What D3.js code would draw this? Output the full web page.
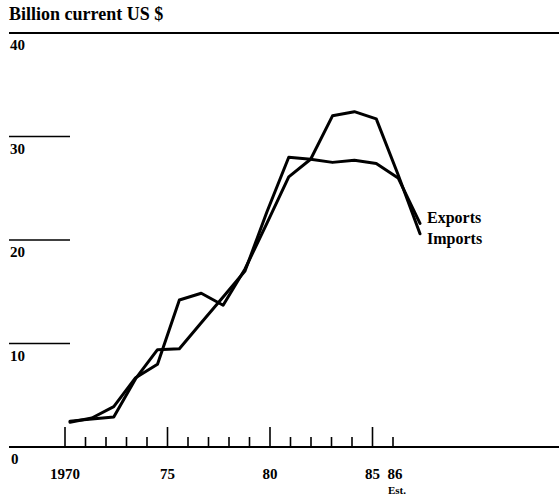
<!DOCTYPE html>
<html>
<head>
<meta charset="utf-8">
<script src="https://cdn.jsdelivr.net/npm/d3@7"></script>
<style>
  html, body { margin: 0; padding: 0; background: #fff; }
  svg text { font-family: "Liberation Serif", "Times New Roman", serif; font-weight: bold; fill: #000; }
</style>
</head>
<body>
<svg id="chart" width="559" height="495"></svg>
<script>
// ---- data ----
const years = [1970, 1971, 1972, 1973, 1974, 1975, 1976, 1977, 1978, 1979, 1980, 1981, 1982, 1983, 1984, 1985, 1986];
const imports = [2.4, 2.8, 3.9, 6.7, 8.0, 14.2, 14.85, 13.7, 17.2, 21.6, 26.1, 27.8, 32.0, 32.4, 31.7, 26.3, 20.6];
const exports = [2.5, 2.7, 2.9, 6.6, 9.4, 9.5, 12.0, 14.5, 17.0, 22.7, 28.0, 27.8, 27.5, 27.7, 27.4, 26.0, 21.6];
const yTicks = [0, 10, 20, 30, 40];
const xTickYears = d3.range(1970, 1987);
const majorYears = [1970, 1975, 1980, 1985];
const xTickLabels = [
  { year: 1970, label: "1970" },
  { year: 1975, label: "75" },
  { year: 1980, label: "80" },
  { year: 1985, label: "85" },
  { year: 1986, label: "86" }
];
const title = "Billion current US $";
const seriesLabels = [
  { name: "Exports", value: 21.6 },
  { name: "Imports", value: 19.6 }
];

// ---- scales ----
const svg = d3.select("#chart");
const y = d3.scaleLinear().domain([0, 40]).range([447, 33]);
const xAxis = d3.scaleLinear().domain([1970, 1986]).range([65, 393]);
const xData = d3.scaleLinear().domain([1970, 1986]).range([70, 420]);

// title
svg.append("text").attr("x", 9).attr("y", 20).attr("font-size", 18).text(title);

// horizontal rules / gridlines
yTicks.forEach(t => {
  const full = (t === 0 || t === 40);
  svg.append("line")
    .attr("x1", 9).attr("x2", full ? 559 : 70)
    .attr("y1", y(t)).attr("y2", y(t))
    .attr("stroke", "#000").attr("stroke-width", full ? 2 : 1.6);
  svg.append("text")
    .attr("x", t === 0 ? 11 : 10)
    .attr("y", y(t) + (t === 0 ? 17 : 17))
    .attr("font-size", 15)
    .text(t);
});

// x ticks
xTickYears.forEach(yr => {
  const major = majorYears.includes(yr);
  svg.append("line")
    .attr("x1", xAxis(yr)).attr("x2", xAxis(yr))
    .attr("y1", y(0)).attr("y2", y(0) - (major ? 20 : 10))
    .attr("stroke", "#000").attr("stroke-width", 1.6);
});
xTickLabels.forEach(d => {
  svg.append("text")
    .attr("x", xAxis(d.year) + (d.year === 1986 ? 2 : 0))
    .attr("y", 479)
    .attr("text-anchor", "middle")
    .attr("font-size", 15)
    .text(d.label);
});
svg.append("text").attr("x", 388).attr("y", 494).attr("font-size", 11).text("Est.");

// lines
const line = d3.line()
  .x((d, i) => xData(years[i]))
  .y(d => y(d))
  .curve(d3.curveLinear);

[imports, exports].forEach(s => {
  svg.append("path")
    .attr("d", line(s))
    .attr("fill", "none")
    .attr("stroke", "#000")
    .attr("stroke-width", 3)
    .attr("stroke-linejoin", "round")
    .attr("stroke-linecap", "round");
});

// series labels
seriesLabels.forEach(d => {
  svg.append("text")
    .attr("x", 427)
    .attr("y", y(d.value))
    .attr("font-size", 16)
    .text(d.name);
});
</script>
</body>
</html>
